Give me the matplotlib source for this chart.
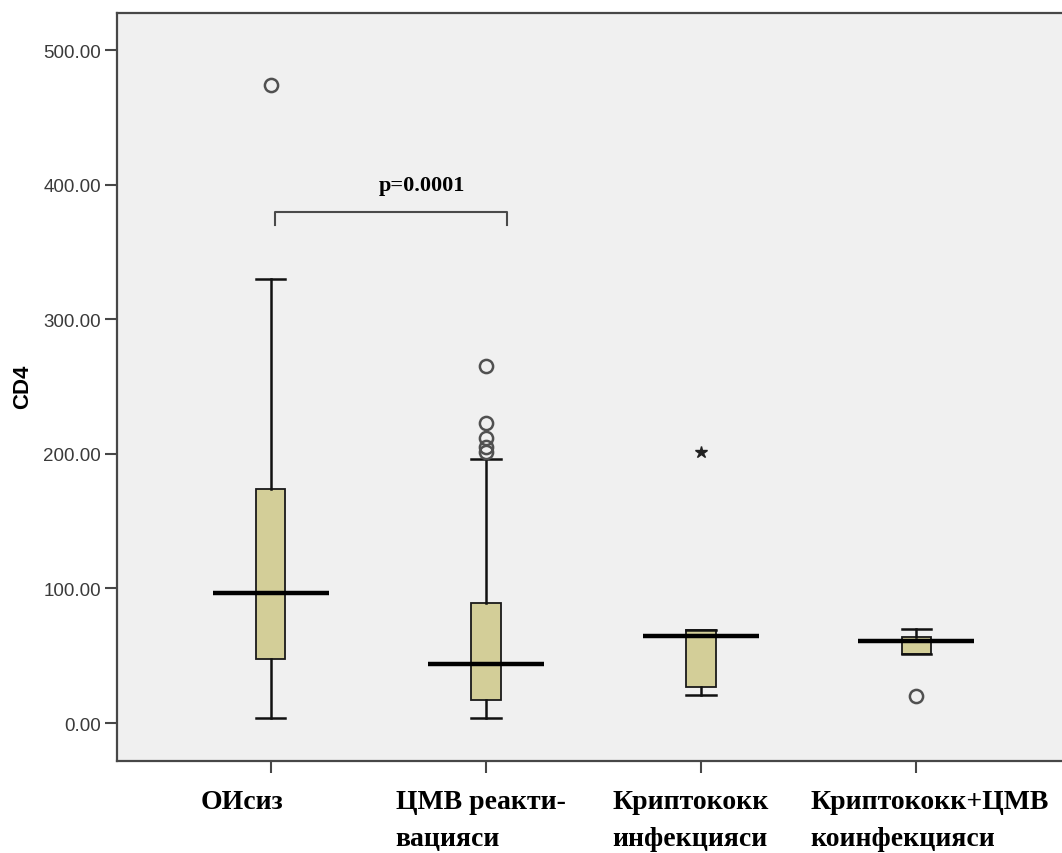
import matplotlib
matplotlib.use("Agg")
import matplotlib.pyplot as plt
from matplotlib import transforms

# ---------------- data ----------------
categories = ["ОИсиз", "ЦМВ реакти-\nвацияси", "Криптококк\nинфекцияси", "Криптококк+ЦМВ\nкоинфекцияси"]
whislo = [4.0, 4.0, 20.8, 51.3]
q1 = [47.5, 17.3, 27.0, 51.3]
med = [96.6, 43.8, 64.4, 61.2]
q3 = [174.0, 89.0, 69.3, 63.9]
whishi = [330.0, 196.0, 69.3, 69.8]
outliers = [[474.0], [265.0, 223.0, 211.4, 204.8, 201.0], [], [19.8]]
extremes = [[], [], [201.0], []]
yticks = [0, 100, 200, 300, 400, 500]
ylabel = "CD4"
p_text = "p=0.0001"
p_pair = (1, 2)
p_level = 379.6
p_drop = 9.6

# ---------------- style ----------------
W, H, DPI = 1062, 854, 100
box_fill = "#d3ce98"
bg = "#f0f0f0"
spine_col = "#474747"
label_offsets_pt = [-51, -65, -64, -76]   # left edge of each category label, relative to its tick

fig = plt.figure(figsize=(W / DPI, H / DPI), dpi=DPI)
ax = fig.add_axes([117 / W, 1 - 762 / H, (1070 - 117) / W, (762 - 14) / H])
ax.set_facecolor(bg)

positions = list(range(1, len(categories) + 1))
stats = []
for i in range(len(categories)):
    stats.append(dict(whislo=whislo[i], q1=q1[i], med=med[i], q3=q3[i],
                      whishi=whishi[i], fliers=outliers[i]))

bw = 0.135
ax.bxp(stats, positions=positions, widths=bw, capwidths=bw, patch_artist=True,
       showfliers=True,
       boxprops=dict(facecolor=box_fill, edgecolor="#1a1a1a", linewidth=1.3),
       whiskerprops=dict(color="#111111", linewidth=1.8),
       capprops=dict(color="#111111", linewidth=1.8),
       medianprops=dict(linewidth=0),
       flierprops=dict(marker="o", markersize=9.5, markerfacecolor="none",
                       markeredgecolor="#505050", markeredgewidth=1.8))

# long thick medians (SPSS style)
mw = 0.54
ax.hlines(med, [p - mw / 2 for p in positions], [p + mw / 2 for p in positions],
          colors="black", linewidth=3.2, zorder=5)

# extreme values
for p, vals in zip(positions, extremes):
    if vals:
        ax.plot([p] * len(vals), vals, linestyle="none", marker="*", markersize=9,
                color="#222222", zorder=6)

# significance bracket
x0, x1 = p_pair[0] + 0.02, p_pair[1] + 0.1
ax.plot([x0, x0, x1, x1], [p_level - p_drop, p_level, p_level, p_level - p_drop],
        color="#4a4a4a", linewidth=1.5)
ax.text((p_pair[0] + p_pair[1]) / 2 + 0.2, p_level + 13, p_text, ha="center", va="bottom",
        fontsize=16, fontweight="bold", family="Liberation Serif", color="black")

ax.set_xlim(0.284, 4.716)
ax.set_ylim(-28.2, 527.5)
ax.set_yticks(yticks)
ax.set_yticklabels([f"{v:.2f}" for v in yticks])
ax.set_xticks(positions)
ax.set_xticklabels([""] * len(positions))
ax.tick_params(axis="both", direction="out", length=8.5, width=1.5, color=spine_col)
ax.tick_params(axis="y", labelsize=13.5, labelcolor="#3a3a3a", pad=3, labelfontfamily="Liberation Sans")

for s in ["left", "top", "bottom"]:
    ax.spines[s].set_color(spine_col)
    ax.spines[s].set_linewidth(1.6)
ax.spines["right"].set_visible(False)

fig.text(23 / W, 1 - 387 / H, ylabel, rotation=90, ha="center", va="center",
         fontsize=16, fontweight="bold", family="Liberation Sans")

# category labels (left-aligned blocks under each tick)
for p, lab, off in zip(positions, categories, label_offsets_pt):
    trans = ax.get_xaxis_transform() + transforms.ScaledTranslation(off / 72, -20 / 72, fig.dpi_scale_trans)
    ax.text(p, 0, lab, transform=trans, ha="left", va="top", multialignment="left",
            fontsize=20, fontweight="bold", family="Liberation Serif", linespacing=1.66,
            clip_on=False)

fig.savefig("out.png", dpi=DPI, facecolor="white")
